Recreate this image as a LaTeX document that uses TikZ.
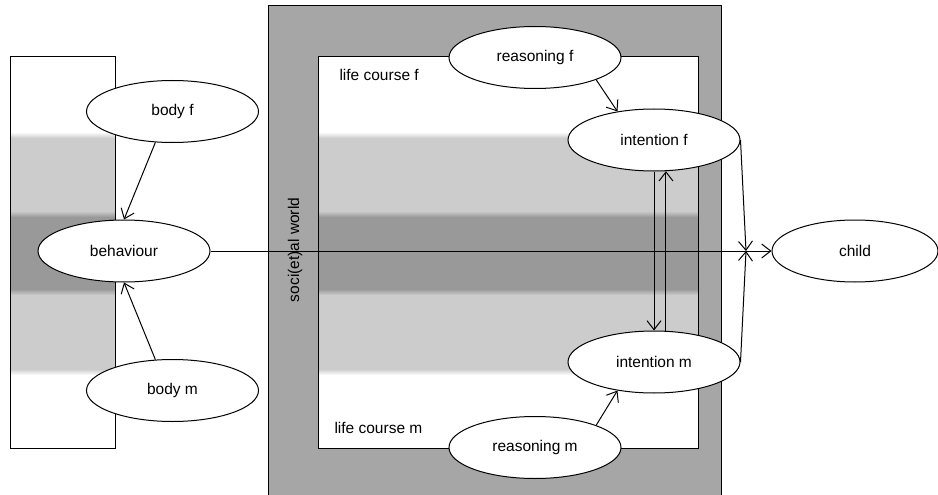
\documentclass[tikz,border=0pt]{standalone}
\usepackage{fontspec}
\setmainfont{Liberation Sans}
\usepackage{xcolor}
\usetikzlibrary{shapes.geometric,arrows.meta}

\definecolor{worldgray}{HTML}{A6A6A6}
\definecolor{lightband}{HTML}{CCCCCC}
\definecolor{darkband}{HTML}{999999}

\tikzset{
	factor/.style={draw,ellipse,fill=white,minimum width=172pt,minimum height=62pt,inner sep=0pt,font=\fontsize{15.5}{18}\selectfont},
	link/.style={-{Straight Barb[length=9pt,width=14pt]}},
	label/.style={font=\fontsize{15.5}{18}\selectfont}
}

\begin{document}
\begin{tikzpicture}[x=1pt,y=-1pt,line width=1pt]
	\useasboundingbox (0,0) rectangle (938,495);
	
	\fill[worldgray] (268,6) rectangle (721,500);
	\draw (268,500) -- (268,6) -- (721,6) -- (721,500);
	\fill[white] (318,57) rectangle (698,448);
	\fill[white] (10,57) rectangle (115,448);
	
	\foreach \xa/\xb in {10/115,318/698}{
		\fill[lightband] (\xa,137) rectangle (\xb,370);
		\fill[darkband] (\xa,216) rectangle (\xb,290);
		\shade[top color=white,bottom color=lightband] (\xa,132) rectangle (\xb,138);
		\shade[top color=lightband,bottom color=white] (\xa,369) rectangle (\xb,375);
		\shade[top color=lightband,bottom color=darkband] (\xa,211) rectangle (\xb,217);
		\shade[top color=darkband,bottom color=lightband] (\xa,289) rectangle (\xb,295);
	}
	
	\draw (10,57) rectangle (115,448);
	\draw (318,57) rectangle (698,448);
	
	\node[label,rotate=90] (world) at (295,250) {soci(et)al world};
	\node[label,right,inner sep=0pt] (coursef) at (339,75) {life course f};
	\node[label,right,inner sep=0pt] (coursem) at (334,428) {life course m};
	
	\node[factor] (bodyf) at (172.5,111.5) {body f};
	\node[factor] (behaviour) at (124,251) {behaviour};
	\node[factor] (bodym) at (172.5,390.5) {body m};
	\node[factor] (reasoningf) at (535,57.5) {reasoning f};
	\node[factor] (intentionf) at (654,140) {intention f};
	\node[factor] (intentionm) at (654,362) {intention m};
	\node[factor] (reasoningm) at (535,447.5) {reasoning m};
	\node[factor,minimum width=166pt] (child) at (855,251) {child};
	\coordinate (join) at (746,251);
	
	\draw[link] (bodyf.241) -- (behaviour.north);
	\draw[link] (bodym.119) -- (behaviour.south);
	\draw[link] (behaviour.east) -- (child.west);
	\draw[link] (reasoningf.340) -- (intentionf.142);
	\draw[link] (reasoningm.20) -- (intentionm.218);
	\draw[link] (intentionf.south) -- (intentionm.north);
	\draw[link] (intentionm.69) -- (intentionf.291);
	\draw[link] (intentionf.east) -- (join);
	\draw[link] (intentionm.east) -- (join);
\end{tikzpicture}
\end{document}
